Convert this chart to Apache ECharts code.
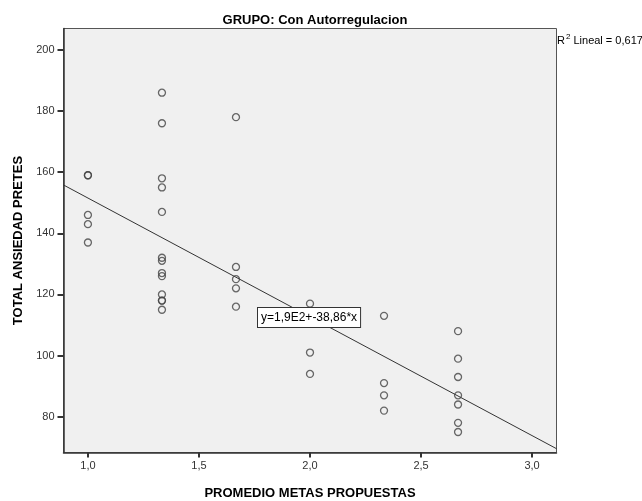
<!DOCTYPE html>
<html>
<head>
<meta charset="utf-8">
<script src="https://cdn.jsdelivr.net/npm/echarts@6/dist/echarts.min.js"></script>
<style>
  html, body { margin: 0; padding: 0; background: #fff; }
  #chart { width: 642px; height: 501px; }
</style>
</head>
<body>
<div id="chart"></div>
<script>
// PROMEDIO METAS PROPUESTAS per group of points
const metas = [1, 1, 1, 1, 1,
  4 / 3, 4 / 3, 4 / 3, 4 / 3, 4 / 3, 4 / 3, 4 / 3, 4 / 3, 4 / 3, 4 / 3, 4 / 3, 4 / 3, 4 / 3,
  5 / 3, 5 / 3, 5 / 3, 5 / 3, 5 / 3,
  2, 2, 2,
  7 / 3, 7 / 3, 7 / 3, 7 / 3,
  8 / 3, 8 / 3, 8 / 3, 8 / 3, 8 / 3, 8 / 3, 8 / 3]
// TOTAL ANSIEDAD PRETES
const ansiedad = [159, 159, 146, 143, 137,
  186, 176, 158, 155, 147, 132, 131, 127, 126, 120, 118, 118, 115,
  178, 129, 125, 122, 116,
  117, 101, 94,
  113, 91, 87, 82,
  108, 99, 93, 87, 84, 78, 75]
const xTicks = [1, 1.5, 2, 2.5, 3]
const yTicks = [80, 100, 120, 140, 160, 180, 200]
const xRange = [0.89, 3.11]
const yRange = [68.3, 207]
const intercept = 190.4
const slope = -38.86

const points = metas.map((x, i) => [x, ansiedad[i]])
const fitLine = xRange.map(x => [x, intercept + slope * x])

const chart = echarts.init(document.getElementById('chart'))
const font = 'Liberation Sans, Arial, sans-serif'
const narrow = 'Liberation Sans Narrow, ' + font

const option = {
  animation: false,
  textStyle: { fontFamily: font },
  title: {
    text: 'GRUPO: Con Autorregulacion',
    left: 310,
    textAlign: 'center',
    top: 9,
    textStyle: { fontFamily: narrow, fontSize: 13, fontWeight: 'bold', color: '#000' }
  },
  grid: {
    left: 63.5, top: 28.5, right: 85.5, bottom: 48.5,
    outerBoundsMode: 'none',
    containLabel: false,
    show: true,
    backgroundColor: '#f0f0f0',
    borderColor: '#555',
    borderWidth: 1
  },
  xAxis: {
    type: 'value',
    min: xRange[0], max: xRange[1],
    name: 'PROMEDIO METAS PROPUESTAS',
    nameLocation: 'middle',
    nameGap: 34,
    nameTextStyle: { fontFamily: font, fontSize: 13, fontWeight: 'bold', color: '#000' },
    splitLine: { show: false },
    axisLine: { lineStyle: { color: '#333', width: 1.5 } },
    axisTick: { show: true, inside: false, length: 5, customValues: xTicks, lineStyle: { color: '#333', width: 2 } },
    axisLabel: {
      customValues: xTicks, margin: 8, fontSize: 11, color: '#333',
      formatter: v => v.toFixed(1).replace('.', ',')
    }
  },
  yAxis: {
    type: 'value',
    min: yRange[0], max: yRange[1],
    name: 'TOTAL ANSIEDAD PRETES',
    nameLocation: 'middle',
    nameGap: 37,
    nameTextStyle: { fontFamily: font, fontSize: 13, fontWeight: 'bold', color: '#000' },
    splitLine: { show: false },
    axisLine: { show: true, lineStyle: { color: '#333', width: 1.5 } },
    axisTick: { show: true, inside: false, length: 6, customValues: yTicks, lineStyle: { color: '#333', width: 2 } },
    axisLabel: { customValues: yTicks, margin: 9, fontSize: 11, color: '#333' }
  },
  series: [
    {
      type: 'line',
      data: fitLine,
      symbol: 'none',
      lineStyle: { color: '#333', width: 1 },
      silent: true,
      z: 1
    },
    {
      type: 'scatter',
      data: points,
      symbol: 'circle',
      symbolSize: 7,
      itemStyle: { color: 'rgba(0,0,0,0)', borderColor: '#444', borderWidth: 1.3 },
      z: 2
    }
  ],
  graphic: [
    {
      type: 'text',
      left: 557, top: 33,
      style: {
        text: '{n|R}{s|2}{n| Lineal = 0,617}',
        rich: {
          n: { fontFamily: narrow, fontSize: 11, color: '#000', verticalAlign: 'bottom' },
          s: { fontFamily: font, fontSize: 8, color: '#000', verticalAlign: 'top', padding: [0, 0, 5, 1] }
        }
      }
    },
    {
      type: 'text',
      left: 257, top: 307,
      z: 10,
      style: {
        text: 'y=1,9E2+-38,86*x',
        fontFamily: narrow,
        fontSize: 12,
        fill: '#000',
        backgroundColor: '#fff',
        borderColor: '#333',
        borderWidth: 1,
        padding: [4, 3, 3, 3]
      }
    }
  ]
}

chart.setOption(option)
</script>
</body>
</html>
